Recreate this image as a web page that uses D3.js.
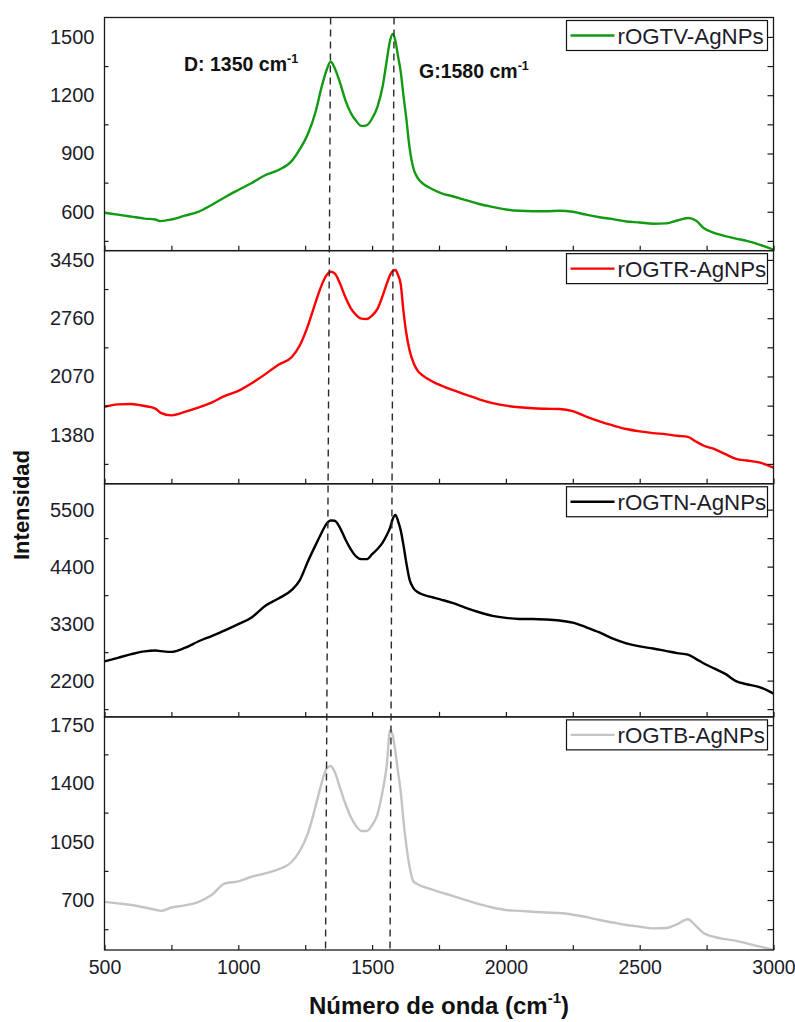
<!DOCTYPE html>
<html>
<head>
<meta charset="utf-8">
<script src="https://cdn.jsdelivr.net/npm/d3@7"></script>
<style>
  html, body { margin: 0; padding: 0; background: #fff; }
  svg { display: block; font-family: Arial, "Liberation Sans", sans-serif; }
</style>
</head>
<body>
<svg id="chart" width="795" height="1022"></svg>
<script>
// Raman shift grid (cm-1) shared by all four spectra
const wavenumber = [
  500, 550, 600, 650, 690, 710, 750, 800, 850, 900, 950, 1000, 1050, 1100, 1150, 1200,
  1230, 1260, 1290, 1310, 1330, 1345, 1360, 1380, 1400, 1420, 1440, 1460, 1480, 1500,
  1520, 1540, 1555, 1567, 1577, 1587, 1597, 1607, 1617, 1627, 1640, 1655, 1670, 1690,
  1720, 1760, 1800, 1850, 1900, 1950, 2000, 2050, 2100, 2150, 2200, 2250, 2300, 2350,
  2400, 2450, 2500, 2550, 2600, 2640, 2680, 2710, 2740, 2780, 2820, 2860, 2900, 2950, 3000
];

const intensityV = [
  595, 585, 575, 565, 560, 552, 560, 580, 600, 635, 675, 712, 748, 788, 815, 862,
  922, 1000, 1120, 1235, 1330, 1372, 1340, 1265, 1175, 1110, 1068, 1042, 1045, 1080,
  1140, 1250, 1380, 1480, 1515, 1480, 1400, 1320, 1200, 1090, 930, 820, 775, 745,
  720, 695, 680, 660, 640, 625, 612, 605, 603, 603, 605, 600, 585, 572,
  562, 550, 545, 538, 540, 555, 568, 555, 515, 490, 475, 462, 450, 430, 405
];

const intensityR = [
  1712, 1740, 1745, 1720, 1690, 1640, 1610, 1650, 1700, 1760, 1840, 1900, 1990, 2095, 2210, 2300,
  2440, 2670, 2960, 3140, 3270, 3310, 3290, 3170, 3010, 2880, 2800, 2755, 2750, 2790,
  2870, 3030, 3170, 3270, 3320, 3330, 3270, 3160, 2850, 2600, 2380, 2230, 2140, 2080,
  2020, 1960, 1910, 1855, 1800, 1755, 1725, 1705, 1693, 1688, 1685, 1660, 1595, 1538,
  1490, 1448, 1420, 1400, 1385, 1368, 1355, 1300, 1250, 1210, 1150, 1095, 1075, 1050, 990
];

const intensityN = [
  2571, 2640, 2710, 2765, 2780, 2770, 2755, 2830, 2955, 3060, 3170, 3290, 3420, 3640, 3785, 3950,
  4140, 4500, 4830, 5040, 5230, 5290, 5285, 5150, 4930, 4740, 4600, 4545, 4545, 4640,
  4740, 4870, 5010, 5150, 5320, 5400, 5280, 5100, 4820, 4500, 4150, 3980, 3910, 3860,
  3815, 3760, 3700, 3605, 3520, 3450, 3410, 3390, 3389, 3380, 3360, 3320, 3230, 3130,
  3010, 2920, 2860, 2820, 2770, 2730, 2700, 2620, 2530, 2430, 2330, 2190, 2130, 2070, 1950
];

const intensityB = [
  689, 680, 670, 655, 642, 635, 655, 668, 688, 730, 800, 812, 840, 860, 885, 930,
  995, 1100, 1270, 1395, 1490, 1505, 1470, 1375, 1280, 1200, 1145, 1115, 1115, 1150,
  1215, 1360, 1510, 1720, 1690, 1590, 1470, 1350, 1180, 1040, 900, 810, 795, 780,
  765, 745, 725, 700, 675, 655, 640, 635, 630, 625, 622, 612, 598, 580,
  565, 550, 540, 530, 532, 555, 585, 545, 500, 478, 465, 455, 440, 420, 400
];

const sampleNames = ["rOGTV-AgNPs", "rOGTR-AgNPs", "rOGTN-AgNPs", "rOGTB-AgNPs"];
const sampleColors = ["#129a12", "#ff0000", "#000000", "#c4c4c4"];
const sampleValues = [intensityV, intensityR, intensityN, intensityB];

// y ranges and tick labels for each stacked panel
const yDomains = [[400, 1600], [800, 3560], [1500, 6000], [400, 1800]];
const yMajorTicks = [
  [600, 900, 1200, 1500],
  [1380, 2070, 2760, 3450],
  [2200, 3300, 4400, 5500],
  [700, 1050, 1400, 1750]
];
const yMinorTicks = [
  [450, 750, 1050, 1350],
  [1035, 1725, 2415, 3105],
  [1650, 2750, 3850, 4950],
  [525, 875, 1225, 1575]
];

const xMajorTicks = [500, 1000, 1500, 2000, 2500, 3000];
const xMinorTicks = [750, 1250, 1750, 2250, 2750];

// band markers: wavenumber where the dashed guide meets the top and bottom of the stack
const bandGuides = [
  { top: 1345, bottom: 1326 },
  { top: 1582, bottom: 1567 }
];

const svg = d3.select("#chart");
const plotLeft = 104.5, plotRight = 773.5, plotTop = 17.5, plotBottom = 950;
const nPanels = 4;
const panelH = (plotBottom - plotTop) / nPanels;
const fmt = d3.format("d");

const x = d3.scaleLinear().domain([500, 3000]).range([plotLeft, plotRight]);

const clip = svg.append("defs").append("clipPath").attr("id", "plotClip");
clip.append("rect").attr("x", plotLeft).attr("y", plotTop)
  .attr("width", plotRight - plotLeft).attr("height", plotBottom - plotTop);

const axisColor = "#1a1a1a";
const labelColor = "#1c1c2a";

for (let i = 0; i < nPanels; i++) {
  const y0 = plotTop + i * panelH;
  const y = d3.scaleLinear().domain(yDomains[i]).range([y0 + panelH, y0]);
  const g = svg.append("g");

  // spectrum
  const line = d3.line()
    .x((d, k) => x(wavenumber[k]))
    .y(d => y(d))
    .curve(d3.curveMonotoneX);
  g.append("path")
    .datum(sampleValues[i])
    .attr("d", line)
    .attr("fill", "none")
    .attr("stroke", sampleColors[i])
    .attr("stroke-width", 2.4)
    .attr("stroke-linejoin", "round")
    .attr("clip-path", "url(#plotClip)");

  // left axis: labels, inner minor ticks
  const leftAxis = d3.axisLeft(y).tickValues(yMajorTicks[i]).tickSize(0).tickPadding(10).tickFormat(fmt);
  const la = g.append("g").attr("transform", `translate(${plotLeft},0)`).call(leftAxis);
  la.select(".domain").remove();
  la.selectAll("text").attr("font-size", 20).attr("fill", labelColor)
    .attr("font-family", "Arial, 'Liberation Sans', sans-serif");
  g.append("g").attr("transform", `translate(${plotLeft},0)`)
    .call(d3.axisRight(y).tickValues(yMinorTicks[i]).tickSize(4).tickFormat(""))
    .call(s => s.select(".domain").remove())
    .selectAll("line").attr("stroke", axisColor).attr("stroke-width", 1.2);

  // right axis: inner ticks, no labels
  g.append("g").attr("transform", `translate(${plotRight},0)`)
    .call(d3.axisLeft(y).tickValues(yMajorTicks[i].concat(yMinorTicks[i])).tickSize(6).tickFormat(""))
    .call(s => s.select(".domain").remove())
    .selectAll("line").attr("stroke", axisColor).attr("stroke-width", 1.2);

  // bottom axis ticks pointing up into the panel
  g.append("g").attr("transform", `translate(0,${y0 + panelH})`)
    .call(d3.axisTop(x).tickValues(xMajorTicks.concat(xMinorTicks)).tickSize(5).tickFormat(""))
    .call(s => s.select(".domain").remove())
    .selectAll("line").attr("stroke", axisColor).attr("stroke-width", 1.2);

  // legend
  const lgX = 566.5, lgY = y0 + 3, lgW = 201, lgH = 30;
  g.append("rect").attr("x", lgX).attr("y", lgY).attr("width", lgW).attr("height", lgH)
    .attr("fill", "#fff").attr("stroke", "#111").attr("stroke-width", 1.2);
  g.append("line").attr("x1", lgX + 4).attr("x2", lgX + 48)
    .attr("y1", lgY + 15).attr("y2", lgY + 15)
    .attr("stroke", sampleColors[i]).attr("stroke-width", 2.4);
  g.append("text").attr("x", lgX + 51).attr("y", lgY + 15).attr("dy", "0.36em")
    .attr("font-size", 22.3).attr("fill", labelColor).text(sampleNames[i]);
}

// panel frames
for (let i = 0; i < nPanels; i++) {
  svg.append("rect")
    .attr("x", plotLeft).attr("y", plotTop + i * panelH)
    .attr("width", plotRight - plotLeft).attr("height", panelH)
    .attr("fill", "none").attr("stroke", axisColor).attr("stroke-width", 1.3);
}

// x tick labels under the bottom panel
const xa = svg.append("g").attr("transform", `translate(0,${plotBottom})`)
  .call(d3.axisBottom(x).tickValues(xMajorTicks).tickSize(0).tickPadding(10).tickFormat(fmt));
xa.select(".domain").remove();
xa.selectAll("text").attr("font-size", 19.5).attr("fill", labelColor)
  .attr("font-family", "Arial, 'Liberation Sans', sans-serif");

// dashed guides at the D and G bands
bandGuides.forEach(b => {
  svg.append("line")
    .attr("x1", x(b.top)).attr("y1", plotTop)
    .attr("x2", x(b.bottom)).attr("y2", plotBottom)
    .attr("stroke", "#2a2a2a").attr("stroke-width", 1.4)
    .attr("stroke-dasharray", "7,5");
});

// band annotations
function bandLabel(px, py, main) {
  const t = svg.append("text").attr("x", px).attr("y", py)
    .attr("font-size", 19.5).attr("font-weight", "bold").attr("fill", "#111");
  t.append("tspan").text(main);
  t.append("tspan").attr("font-size", 12.5).attr("dy", -8).text("-1");
}
bandLabel(184, 71, "D: 1350 cm");
bandLabel(419, 78, "G:1580 cm");

// axis titles
const xt = svg.append("text").attr("x", 439).attr("y", 1014).attr("text-anchor", "middle")
  .attr("font-size", 24).attr("font-weight", "bold").attr("fill", "#111");
xt.append("tspan").text("Número de onda (cm");
xt.append("tspan").attr("font-size", 15).attr("dy", -11).text("-1");
xt.append("tspan").attr("dy", 11).text(")");

svg.append("text")
  .attr("transform", "translate(29,505) rotate(-90)")
  .attr("text-anchor", "middle")
  .attr("font-size", 22).attr("font-weight", "bold").attr("fill", "#111")
  .text("Intensidad");
</script>
</body>
</html>
